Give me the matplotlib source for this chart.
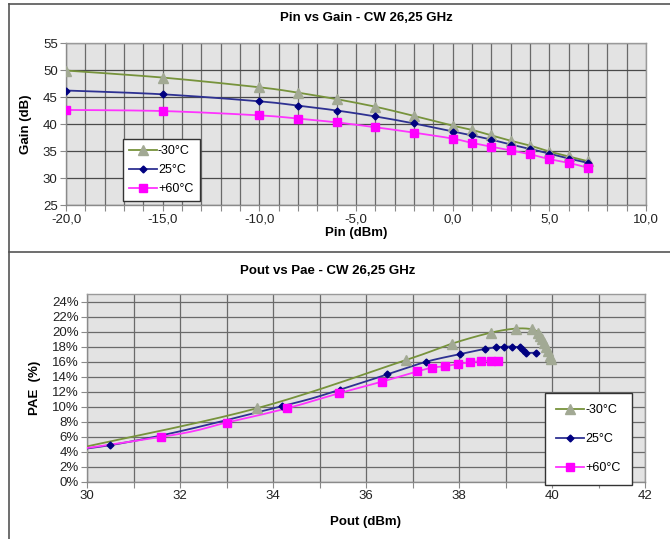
import numpy as np
import matplotlib
matplotlib.use("Agg")
import matplotlib.pyplot as plt
from matplotlib.lines import Line2D

plt.rcParams['font.family'] = ['Liberation Sans', 'DejaVu Sans']

# ---------------- data ----------------
pin = [-20, -15, -10, -8, -6, -4, -2, 0, 1, 2, 3, 4, 5, 6, 7]
gain_m30 = [49.9, 48.6, 46.8, 45.8, 44.6, 43.2, 41.5, 39.7, 38.9, 37.9, 36.9, 36.0, 34.9, 34.0, 33.1]
gain_25 = [46.2, 45.5, 44.2, 43.4, 42.5, 41.4, 40.1, 38.6, 37.9, 37.1, 36.2, 35.4, 34.5, 33.6, 32.8]
gain_p60 = [42.6, 42.4, 41.6, 41.0, 40.3, 39.4, 38.4, 37.3, 36.5, 35.8, 35.1, 34.4, 33.5, 32.8, 31.9]

pout_m30 = [29.9, 33.65, 36.85, 37.85, 38.68, 39.22, 39.58, 39.70, 39.75, 39.79, 39.83, 39.87, 39.91, 39.95, 39.98]
pae_m30 = [4.6, 9.8, 16.2, 18.4, 19.85, 20.4, 20.3, 19.8, 19.4, 19.0, 18.5, 18.0, 17.4, 16.8, 16.3]
pout_25 = [26.2, 30.5, 34.2, 35.45, 36.45, 37.3, 38.02, 38.56, 38.8, 38.97, 39.15, 39.31, 39.38, 39.45, 39.65]
pae_25 = [2.2, 4.9, 10.1, 12.3, 14.3, 16.0, 17.0, 17.7, 17.9, 18.0, 18.0, 17.9, 17.6, 17.2, 17.2]
pout_p60 = [22.6, 27.4, 31.6, 33.0, 34.3, 35.42, 36.35, 37.1, 37.42, 37.7, 37.98, 38.24, 38.48, 38.68, 38.84]
pae_p60 = [1.2, 2.6, 6.0, 7.9, 9.8, 11.8, 13.35, 14.7, 15.2, 15.4, 15.7, 15.9, 16.1, 16.1, 16.1]

series_names = ['-30°C', '25°C', '+60°C']
pin_ticks = [-20, -15, -10, -5, 0, 5, 10]
pin_ticklabels = ['-20,0', '-15,0', '-10,0', '-5,0', '0,0', '5,0', '10,0']
gain_ticks = [25, 30, 35, 40, 45, 50, 55]
pout_ticks = [30, 32, 34, 36, 38, 40, 42]
pae_ticks = [0, 2, 4, 6, 8, 10, 12, 14, 16, 18, 20, 22, 24]
pae_ticklabels = [f'{v}%' for v in pae_ticks]

styles = [
    dict(color='#77933C', marker='^', mfc='#A2A994', mec='#A2A994', ms=6.5),
    dict(color='#2E3192', marker='D', mfc='#000080', mec='#000080', ms=3.5),
    dict(color='#FF33FF', marker='s', mfc='#FF00FF', mec='#FF00FF', ms=5.5),
]


def smooth(x, y, n=20):
    """Excel-like smoothed line (uniform Catmull-Rom as cubic Bezier)."""
    p = np.column_stack([x, y]).astype(float)
    pts = np.vstack([p[0], p, p[-1]])
    out = []
    t = np.linspace(0, 1, n, endpoint=False)[:, None]
    for i in range(1, len(pts) - 2):
        p0, p1, p2, p3 = pts[i - 1], pts[i], pts[i + 1], pts[i + 2]
        c1 = p1 + (p2 - p0) / 6.0
        c2 = p2 - (p3 - p1) / 6.0
        seg = ((1 - t) ** 3) * p1 + 3 * ((1 - t) ** 2) * t * c1 + 3 * (1 - t) * t ** 2 * c2 + t ** 3 * p2
        out.append(seg)
    out.append(p[-1][None, :])
    out = np.vstack(out)
    return out[:, 0], out[:, 1]


W, H = 670, 539
fig = plt.figure(figsize=(W / 100, H / 100), dpi=100)
fig.patch.set_facecolor('white')

# panel borders
fig.add_artist(Line2D([9 / W, 9 / W], [0, 1 - 4 / H], transform=fig.transFigure, color='#555555', lw=1.2))
fig.add_artist(Line2D([9 / W, 1], [1 - 4 / H, 1 - 4 / H], transform=fig.transFigure, color='#555555', lw=1.2))
fig.add_artist(Line2D([9 / W, 1], [1 - 252 / H, 1 - 252 / H], transform=fig.transFigure, color='#555555', lw=1.2))


def ax_rect(l, t, r, b):
    return [l / W, 1 - b / H, (r - l) / W, (b - t) / H]


def style_axes(ax):
    ax.set_facecolor('#E3E3E3')
    for s in ['top', 'right']:
        ax.spines[s].set_color('#9A9A9A')
        ax.spines[s].set_linewidth(1.0)
    for s in ['left', 'bottom']:
        ax.spines[s].set_color('#8A8A8A')
        ax.spines[s].set_linewidth(1.0)
    ax.tick_params(which='both', direction='out', length=4, width=0.8, color='#8A8A8A',
                   labelsize=9.5, labelcolor='#222222', pad=2)
    ax.grid(True, which='both', color='#6A6A6A', lw=0.9)
    ax.set_axisbelow(True)


# ---------------- top chart ----------------
ax1 = fig.add_axes(ax_rect(66, 43, 646, 205))
style_axes(ax1)
for gy, st, nm in zip([gain_m30, gain_25, gain_p60], styles, series_names):
    sx, sy = smooth(pin, gy)
    ax1.plot(sx, sy, color=st['color'], lw=1.3, zorder=3)
    ax1.plot(pin, gy, ls='none', marker=st['marker'], mfc=st['mfc'], mec=st['mec'], ms=st['ms'], zorder=4)
ax1.set_xlim(-20, 10)
ax1.set_ylim(25, 55)
ax1.set_xticks(pin_ticks)
ax1.set_xticklabels(pin_ticklabels)
ax1.set_xticks(np.arange(-20, 11, 1), minor=True)
ax1.set_yticks(gain_ticks)
ax1.set_xlabel('Pin (dBm)', fontsize=9.5, fontweight='bold', labelpad=1)
ax1.set_ylabel('Gain (dB)', fontsize=9.5, fontweight='bold', labelpad=8)
ax1.grid(False, which='major', axis='y')
ax1.grid(True, which='major', axis='y', color='#4A4A4A', lw=0.9)
fig.text(366 / W, 1 - 18 / H, 'Pin vs Gain - CW 26,25 GHz', ha='center', va='center',
         fontsize=9.5, fontweight='bold')

handles = [Line2D([], [], color=st['color'], lw=1.3, marker=st['marker'], mfc=st['mfc'],
                  mec=st['mec'], ms=st['ms']) for st in styles]
leg1 = ax1.legend(handles, series_names, loc='upper left',
                  bbox_to_anchor=(123 / W, 1 - 139 / H), bbox_transform=fig.transFigure,
                  frameon=True, fancybox=False, edgecolor='#333333', framealpha=1,
                  fontsize=9, handlelength=2.2, handletextpad=0.1, labelspacing=0.55,
                  borderpad=0.5, borderaxespad=0)
leg1.get_frame().set_linewidth(1.0)

# ---------------- bottom chart ----------------
ax2 = fig.add_axes(ax_rect(87, 294, 645, 482))
style_axes(ax2)
for px, py, st in zip([pout_m30, pout_25, pout_p60], [pae_m30, pae_25, pae_p60], styles):
    sx, sy = smooth(px, py)
    ax2.plot(sx, sy, color=st['color'], lw=1.3, zorder=3)
    ax2.plot(px, py, ls='none', marker=st['marker'], mfc=st['mfc'], mec=st['mec'], ms=st['ms'], zorder=4)
ax2.set_xlim(30, 42)
ax2.set_ylim(0, 25)
ax2.set_xticks(pout_ticks)
ax2.set_xticks(np.arange(30, 43, 1), minor=True)
ax2.set_yticks(pae_ticks)
ax2.set_yticklabels(pae_ticklabels)
ax2.set_xlabel('Pout (dBm)', fontsize=9.5, fontweight='bold', labelpad=10)
ax2.set_ylabel('PAE  (%)', fontsize=9.5, fontweight='bold', labelpad=8)
fig.text(328 / W, 1 - 271 / H, 'Pout vs Pae - CW 26,25 GHz', ha='center', va='center',
         fontsize=9.5, fontweight='bold')

leg2 = ax2.legend(handles, series_names, loc='upper left',
                  bbox_to_anchor=(545 / W, 1 - 393 / H), bbox_transform=fig.transFigure,
                  frameon=True, fancybox=False, edgecolor='#333333', framealpha=1,
                  fontsize=9, handlelength=2.2, handletextpad=0.1, labelspacing=1.35,
                  borderpad=0.9, borderaxespad=0)
leg2.get_frame().set_linewidth(1.0)

fig.savefig('out.png', dpi=100, facecolor='white')
